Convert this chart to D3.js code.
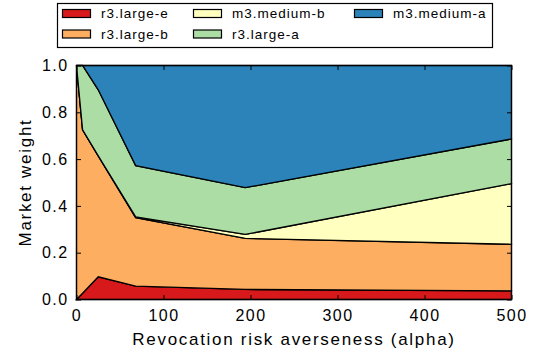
<!DOCTYPE html>
<html><head><meta charset="utf-8">
<script src="https://cdn.jsdelivr.net/npm/d3@7"></script>
<style>
html,body{margin:0;padding:0;background:#fff;}
text{font-family:"Liberation Sans",Arial,sans-serif;fill:#000;}
</style></head>
<body><svg id="c" width="535" height="356"></svg>
<script>
const alphas = [0, 7, 25, 68, 194, 500];
const seriesNames = ["r3.large-e", "r3.large-b", "m3.medium-b", "r3.large-a", "m3.medium-a"];
const r3LargeE  = [0, 0.027, 0.097, 0.057, 0.043, 0.037];
const r3LargeB  = [1.0, 0.698, 0.517, 0.293, 0.218, 0.199];
const m3MediumB = [0, 0, 0, 0.003, 0.017, 0.259];
const r3LargeA  = [0, 0.275, 0.282, 0.219, 0.200, 0.191];
const m3MediumA = [0, 0, 0.104, 0.428, 0.522, 0.314];
const colors = ["#d7191c", "#fdae61", "#ffffbf", "#abdda4", "#2b83ba"];
const xTicks = [0, 100, 200, 300, 400, 500];
const yTicks = [0, 0.2, 0.4, 0.6, 0.8, 1.0];

const seriesValues = [r3LargeE, r3LargeB, m3MediumB, r3LargeA, m3MediumA];
const rows = alphas.map((a, i) => {
  const r = {alpha: a};
  seriesNames.forEach((n, k) => r[n] = seriesValues[k][i]);
  return r;
});

const svg = d3.select("#c");
const L = 76.5, R = 511.5, T = 65.5, B = 299.5;
const x = d3.scaleLinear().domain([0, 500]).range([L, R]);
const y = d3.scaleLinear().domain([0, 1]).range([B, T]);

const stack = d3.stack().keys(seriesNames)(rows);
const area = d3.area().x(d => x(d.data.alpha)).y0(d => y(d[0])).y1(d => y(d[1]));

svg.append("g").selectAll("path").data(stack).join("path")
  .attr("d", area)
  .attr("fill", (d, i) => colors[i])
  .attr("stroke", "#000").attr("stroke-width", 1.3).attr("stroke-linejoin", "miter");

// frame
svg.append("rect").attr("x", L).attr("y", T).attr("width", R - L).attr("height", B - T)
  .attr("fill", "none").attr("stroke", "#000").attr("stroke-width", 1.2);

const tl = 4.5;
const fmtY = d3.format(".1f");
const xAxisB = d3.axisBottom(x).tickValues(xTicks).tickSizeInner(-tl).tickSizeOuter(0).tickPadding(10);
const gxb = svg.append("g").attr("transform", `translate(0,${B})`).call(xAxisB);
const xAxisT = d3.axisTop(x).tickValues(xTicks).tickSizeInner(-tl).tickSizeOuter(0).tickFormat("");
const gxt = svg.append("g").attr("transform", `translate(0,${T})`).call(xAxisT);
const yAxisL = d3.axisLeft(y).tickValues(yTicks).tickSizeInner(-tl).tickSizeOuter(0).tickPadding(9).tickFormat(fmtY);
const gyl = svg.append("g").attr("transform", `translate(${L},0)`).call(yAxisL);
const yAxisR = d3.axisRight(y).tickValues(yTicks).tickSizeInner(-tl).tickSizeOuter(0).tickFormat("");
const gyr = svg.append("g").attr("transform", `translate(${R},0)`).call(yAxisR);
[gxb, gxt, gyl, gyr].forEach(g => {
  g.select(".domain").remove();
  g.selectAll(".tick line").attr("stroke", "#000").attr("stroke-width", 1);
  g.selectAll("text").attr("font-family", "Liberation Sans, Arial, sans-serif")
    .attr("font-size", 16).style("letter-spacing", "1.4px").attr("fill", "#000");
});
gxb.selectAll("text").attr("dy", "0.71em");
gyl.selectAll("text").attr("dx", "1px");

svg.append("text").attr("x", (L + R) / 2).attr("y", 345).attr("text-anchor", "middle")
  .attr("font-size", 17).style("letter-spacing", "1.7px").text("Revocation risk averseness (alpha)");
svg.append("text").attr("transform", `translate(31,${(T + B) / 2}) rotate(-90)`).attr("text-anchor", "middle")
  .attr("font-size", 17).style("letter-spacing", "1.7px").text("Market weight");

// legend
const lg = svg.append("g");
lg.append("rect").attr("x", 57.5).attr("y", 3.5).attr("width", 435).attr("height", 44)
  .attr("fill", "#fff").attr("stroke", "#000").attr("stroke-width", 1.2);
const colX = [62.5, 193.5, 354.5];
const rowY = [13.5, 34];
seriesNames.forEach((n, i) => {
  const c = Math.floor(i / 2), r = i % 2;
  lg.append("rect").attr("x", colX[c]).attr("y", rowY[r] - 4).attr("width", 28).attr("height", 8)
    .attr("fill", colors[i]).attr("stroke", "#000").attr("stroke-width", 1.2);
  lg.append("text").attr("x", colX[c] + 38.5).attr("y", rowY[r]).attr("dy", "0.35em")
    .attr("font-size", 13.5).style("letter-spacing", "1px").text(n);
});
</script></body></html>
